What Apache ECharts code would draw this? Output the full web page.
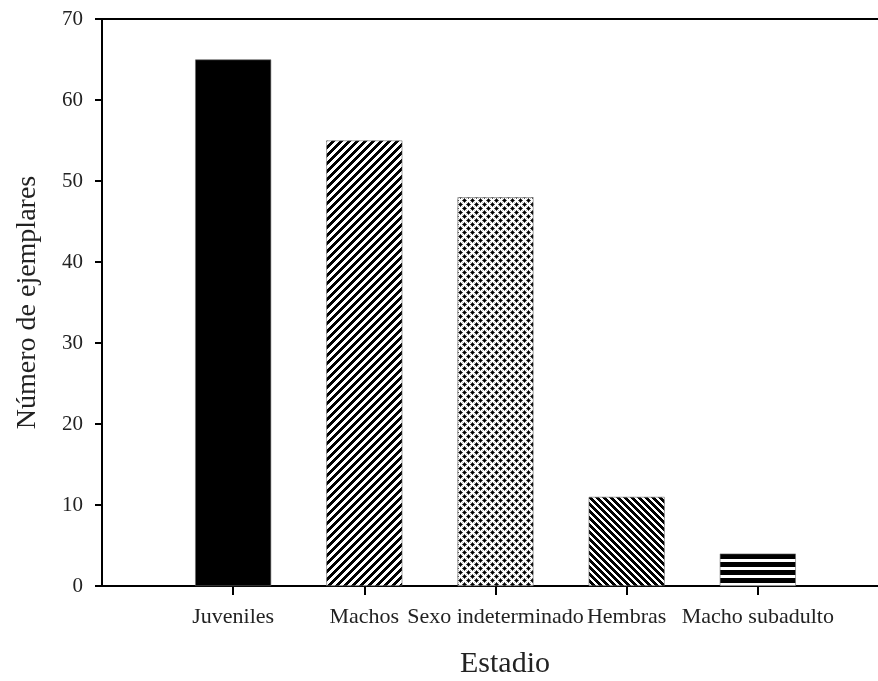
<!DOCTYPE html>
<html>
<head>
<meta charset="utf-8">
<script src="https://cdn.jsdelivr.net/npm/echarts@6/dist/echarts.min.js"></script>
<style>
  html, body { margin: 0; padding: 0; background: #fff; overflow: hidden; }
  #chart { width: 878px; height: 681px; }
</style>
</head>
<body>
<div id="chart"></div>
<script>
// Stage categories and specimen counts
const categories = ['Juveniles', 'Machos', 'Sexo indeterminado', 'Hembras', 'Macho subadulto'];
const counts = [65, 55, 48, 11, 4];
const yTicks = [0, 10, 20, 30, 40, 50, 60, 70];

// Pixel-based fill patterns: paint(x, y) returns a grey level (0 = black, 255 = white)
function tile(w, h, paint) {
  const c = document.createElement('canvas');
  c.width = w; c.height = h;
  const g = c.getContext('2d');
  const img = g.createImageData(w, h);
  for (let y = 0; y < h; y++) {
    for (let x = 0; x < w; x++) {
      const v = paint(x, y);
      const i = (y * w + x) * 4;
      img.data[i] = img.data[i + 1] = img.data[i + 2] = v;
      img.data[i + 3] = 255;
    }
  }
  g.putImageData(img, 0, 0);
  return { image: c, repeat: 'repeat' };
}
const mod = (a, n) => ((a % n) + n) % n;

const fills = [
  '#000',
  // rising diagonal stripes
  tile(8, 8, (x, y) => (mod(x + y, 8) < 4 ? 0 : 255)),
  // dotted crosshatch
  tile(8, 8, (x, y) => {
    const u = mod(x + y, 8), v = mod(x - y, 8);
    const du = Math.min(u, 8 - u), dv = Math.min(v, 8 - v);
    if (du <= 1 && dv <= 1) return 0;
    if (du <= 2 && dv <= 2) return 80;
    if (du < 1 || dv < 1) return 200;
    return 255;
  }),
  // falling diagonal stripes
  tile(7, 7, (x, y) => (mod(x - y, 7) < 4 ? 0 : 255)),
  // horizontal bands
  tile(8, 8, (x, y) => (mod(y, 8) >= 2 && mod(y, 8) < 7 ? 0 : 255))
];

const chart = echarts.init(document.getElementById('chart'), null, { renderer: 'canvas' });
const serif = 'Liberation Serif, Times New Roman, serif';
const ink = '#222';

chart.setOption({
  animation: false,
  backgroundColor: '#fff',
  grid: { left: 102, top: 19, width: 787, height: 567, outerBoundsMode: 'none', containLabel: false },
  xAxis: [{
    type: 'value',
    min: 0, max: 6, interval: 1,
    axisLine: { show: true, lineStyle: { color: '#000', width: 2 } },
    axisTick: { show: true, length: 9, customValues: [1, 2, 3, 4, 5], lineStyle: { color: '#000', width: 2 } },
    axisLabel: {
      customValues: [1, 2, 3, 4, 5],
      formatter: v => categories[v - 1] || '',
      margin: 20, fontFamily: serif, fontSize: 22, color: ink
    },
    splitLine: { show: false }
  }, {
    // top frame line
    type: 'value', position: 'top',
    min: 0, max: 6,
    axisLine: { show: true, lineStyle: { color: '#000', width: 2 } },
    axisTick: { show: false },
    axisLabel: { show: false },
    splitLine: { show: false }
  }],
  yAxis: {
    type: 'value',
    min: 0, max: 70, interval: 10,
    name: 'Número de ejemplares',
    nameLocation: 'middle', nameRotate: 90, nameGap: 60,
    nameTextStyle: { fontFamily: serif, fontSize: 28, color: ink },
    axisLine: { show: true, lineStyle: { color: '#000', width: 2 } },
    axisTick: { show: true, length: 7, lineStyle: { color: '#000', width: 2 } },
    axisLabel: {
      margin: 19, fontFamily: serif, fontSize: 21, color: ink,
      formatter: v => (yTicks.indexOf(v) >= 0 ? String(v) : '')
    },
    splitLine: { show: false }
  },
  graphic: [{
    type: 'text', x: 505, y: 664,
    style: { text: 'Estadio', font: '30px ' + serif, fill: ink, align: 'center', verticalAlign: 'middle' }
  }],
  series: [{
    type: 'bar',
    xAxisIndex: 0,
    barWidth: 76,
    data: counts.map((v, i) => ({
      value: [i + 1, v],
      itemStyle: { color: fills[i], borderColor: '#666', borderWidth: 0.6 }
    }))
  }]
});
</script>
</body>
</html>
